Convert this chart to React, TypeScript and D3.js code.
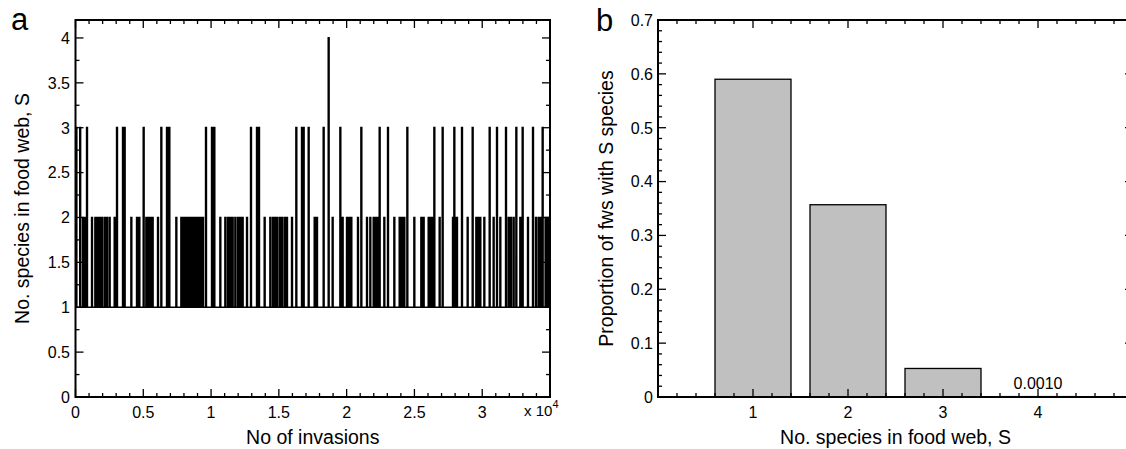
import React from 'react';
import * as d3 from 'd3';

const W = 1126;
const H = 449;
const FONT = '"Liberation Sans", Arial, Helvetica, sans-serif';

// ---------- Panel a data ----------
const totalInvasions = 35000;
// invasion index at which a short excursion to S = 2 occurs
const level2Pulses = [
  529, 700, 1193, 1438, 1610, 1758, 1930, 2127, 2299, 2495, 2864, 4094, 4512, 4684, 5200, 5372, 5495,
  5667, 6061, 7413, 7782, 7954, 8077, 8200, 8347, 8500, 8580, 8650, 8720, 8800, 8870, 8940, 9020, 9100,
  9180, 9230, 9380, 10658, 11027, 11224, 11396, 11568, 11765, 11962, 12134, 12306, 12626, 13928, 14346,
  14543, 14666, 14838, 15034, 15207, 15403, 15576, 15945, 17617, 17789, 18944, 19681, 20001, 20173,
  20321, 20812, 21477, 21722, 21968, 22091, 22263, 22755, 23493, 23886, 24058, 24230, 24968, 25484,
  25656, 26025, 26148, 26271, 26836, 27820, 27992, 28115, 28902, 29541, 29713, 29836, 30131, 30819,
  31311, 31926, 32098, 32295, 32786, 33352, 33942, 34139, 34311, 34650, 34800, 34920,
];
// excursions to S = 3
const level3Pulses = [
  40, 320, 824, 3037, 3479, 3602, 5003, 6306, 6724, 6897, 9601, 10044, 10216, 12920, 13363, 13511,
  16264, 16682, 16805, 17174, 18280, 19510, 21059, 22411, 23026, 24452, 26444, 27058, 27919, 28484,
  29271, 30525, 31066, 31730, 32492, 32959, 33721, 34434,
];
// excursion to S = 4
const level4Pulses = [18649];
const pulseDuration = 50;

const aXTickValues = [0, 5000, 10000, 15000, 20000, 25000, 30000];
const aXTickLabels = ['0', '0.5', '1', '1.5', '2', '2.5', '3'];
const aYTickValues = [0, 0.5, 1, 1.5, 2, 2.5, 3, 3.5, 4];
const aYTickLabels = ['0', '0.5', '1', '1.5', '2', '2.5', '3', '3.5', '4'];

// ---------- Panel b data ----------
const speciesCounts = [1, 2, 3, 4];
const proportions = [0.59, 0.357, 0.053, 0.001];
const bXTickValues = [1, 2, 3, 4];
const bXTickLabels = ['1', '2', '3', '4'];
const bYTickValues = [0, 0.1, 0.2, 0.3, 0.4, 0.5, 0.6, 0.7];
const bYTickLabels = ['0', '0.1', '0.2', '0.3', '0.4', '0.5', '0.6', '0.7'];
const annotatedLabel = '0.0010';

const MAJOR = 8;
const MINOR = 4;

function range(a: number, b: number, step: number) {
  const out: number[] = [];
  const n = Math.round((b - a) / step);
  for (let i = 0; i <= n; i++) out.push(a + i * step);
  return out;
}

function Frame({ x0, x1, y0, y1 }: { x0: number; x1: number; y0: number; y1: number }) {
  return (
    <path
      d={`M${x0},${y0}V${y1}H${x1}V${y0}Z`}
      fill="none"
      stroke="#000"
      strokeWidth={2}
    />
  );
}

function PanelA() {
  const x = d3.scaleLinear().domain([0, totalInvasions]).range([75.5, 550]);
  const y = d3.scaleLinear().domain([0, 4.2]).range([397, 20]);

  const pulses = [
    ...level2Pulses.map((s) => ({ s, h: 2 })),
    ...level3Pulses.map((s) => ({ s, h: 3 })),
    ...level4Pulses.map((s) => ({ s, h: 4 })),
  ].sort((a, b) => a.s - b.s);

  const pts: [number, number][] = [[0, 1]];
  pulses.forEach((p) => {
    const e = Math.min(p.s + pulseDuration, totalInvasions);
    pts.push([p.s, 1], [p.s, p.h], [e, p.h], [e, 1]);
  });
  pts.push([totalInvasions, 1]);
  const line = d3
    .line<[number, number]>()
    .x((d) => x(d[0]))
    .y((d) => y(d[1]));

  const [x0, x1] = x.range();
  const [yb, yt] = y.range();

  const xMinor = range(0, totalInvasions, 1000);
  const yMinor = range(0, 4.2, 0.25).filter((v) => v <= 4.2);
  const isMajorX = (v: number) => Math.abs(v / 5000 - Math.round(v / 5000)) < 1e-6;
  const isMajorY = (v: number) => Math.abs(v / 0.5 - Math.round(v / 0.5)) < 1e-6;

  return (
    <g fontFamily={FONT}>
      <defs>
        <clipPath id="clipA">
          <rect x={x0} y={yt} width={x1 - x0} height={yb - yt} />
        </clipPath>
      </defs>
      <path
        d={line(pts) || ''}
        fill="none"
        stroke="#000"
        strokeWidth={1.7}
        strokeLinejoin="miter"
        clipPath="url(#clipA)"
      />
      {xMinor.map((v) => {
        const len = isMajorX(v) ? MAJOR : MINOR;
        return (
          <g key={'ax' + v}>
            <line x1={x(v)} x2={x(v)} y1={yb} y2={yb - len} stroke="#000" strokeWidth={1.3} />
            <line x1={x(v)} x2={x(v)} y1={yt} y2={yt + len} stroke="#000" strokeWidth={1.3} />
          </g>
        );
      })}
      {yMinor.map((v) => {
        const len = isMajorY(v) ? MAJOR : MINOR;
        return (
          <g key={'ay' + v}>
            <line x1={x0} x2={x0 + len} y1={y(v)} y2={y(v)} stroke="#000" strokeWidth={1.3} />
            <line x1={x1} x2={x1 - len} y1={y(v)} y2={y(v)} stroke="#000" strokeWidth={1.3} />
          </g>
        );
      })}
      <Frame x0={x0} x1={x1} y0={yt} y1={yb} />
      {aXTickValues.map((v, i) => (
        <text key={'axl' + v} x={x(v)} y={418} fontSize={16} textAnchor="middle">
          {aXTickLabels[i]}
        </text>
      ))}
      {aYTickValues.map((v, i) => (
        <text key={'ayl' + v} x={70} y={y(v) + 5.8} fontSize={16} textAnchor="end">
          {aYTickLabels[i]}
        </text>
      ))}
      <text x={524} y={416} fontSize={15}>
        x 10
      </text>
      <text x={552.5} y={408} fontSize={11}>
        4
      </text>
      <text x={(x0 + x1) / 2} y={444} fontSize={19.5} textAnchor="middle">
        No of invasions
      </text>
      <text
        transform={`translate(28.5,${(yt + yb) / 2}) rotate(-90)`}
        fontSize={19.5}
        textAnchor="middle"
      >
        No. species in food web, S
      </text>
      <text x={11} y={30} fontSize={31}>
        a
      </text>
    </g>
  );
}

function PanelB() {
  const x = d3.scaleLinear().domain([0, 5]).range([658, 1133]);
  const y = d3.scaleLinear().domain([0, 0.7]).range([397, 20]);
  const [x0, x1] = x.range();
  const [yb, yt] = y.range();
  const barW = 0.8;

  const xMinor = range(0, 5, 0.2);
  const yMinor = range(0, 0.7, 0.02);
  const isMajorX = (v: number) => Math.abs(v - Math.round(v)) < 1e-6;
  const isMajorY = (v: number) => Math.abs(v / 0.1 - Math.round(v / 0.1)) < 1e-6;

  return (
    <g fontFamily={FONT}>
      {speciesCounts.map((c, i) => (
        <rect
          key={'bar' + c}
          x={x(c - barW / 2)}
          y={y(proportions[i])}
          width={x(c + barW / 2) - x(c - barW / 2)}
          height={yb - y(proportions[i])}
          fill="#c0c0c0"
          stroke={proportions[i] < 0.01 ? '#b0b0b0' : '#000'}
          strokeWidth={1.3}
        />
      ))}
      <text x={x(4)} y={y(proportions[3]) - 7.5} fontSize={16} textAnchor="middle">
        {annotatedLabel}
      </text>
      {xMinor.map((v) => {
        const len = isMajorX(v) ? MAJOR : MINOR;
        return (
          <g key={'bx' + v}>
            <line x1={x(v)} x2={x(v)} y1={yb} y2={yb - len} stroke="#000" strokeWidth={1.3} />
            <line x1={x(v)} x2={x(v)} y1={yt} y2={yt + len} stroke="#000" strokeWidth={1.3} />
          </g>
        );
      })}
      {yMinor.map((v) => {
        const len = isMajorY(v) ? MAJOR : MINOR;
        return (
          <g key={'by' + v}>
            <line x1={x0} x2={x0 + len} y1={y(v)} y2={y(v)} stroke="#000" strokeWidth={1.3} />
            <line x1={x1} x2={x1 - len} y1={y(v)} y2={y(v)} stroke="#000" strokeWidth={1.3} />
          </g>
        );
      })}
      <Frame x0={x0} x1={x1} y0={yt} y1={yb} />
      {bXTickValues.map((v, i) => (
        <text key={'bxl' + v} x={x(v)} y={418} fontSize={16} textAnchor="middle">
          {bXTickLabels[i]}
        </text>
      ))}
      {bYTickValues.map((v, i) => (
        <text key={'byl' + v} x={653} y={y(v) + 5.8} fontSize={16} textAnchor="end">
          {bYTickLabels[i]}
        </text>
      ))}
      <text x={(x0 + x1) / 2} y={444} fontSize={19.5} textAnchor="middle">
        No. species in food web, S
      </text>
      <text
        transform={`translate(613,${(yt + yb) / 2}) rotate(-90)`}
        fontSize={19.5}
        textAnchor="middle"
      >
        Proportion of fws with S species
      </text>
      <text x={596} y={31} fontSize={31}>
        b
      </text>
    </g>
  );
}

export default function App() {
  return (
    <svg
      width={W}
      height={H}
      viewBox={`0 0 ${W} ${H}`}
      style={{ position: 'absolute', left: 0, top: 0, background: '#fff' }}
    >
      <rect x={0} y={0} width={W} height={H} fill="#fff" />
      <PanelA />
      <PanelB />
    </svg>
  );
}
